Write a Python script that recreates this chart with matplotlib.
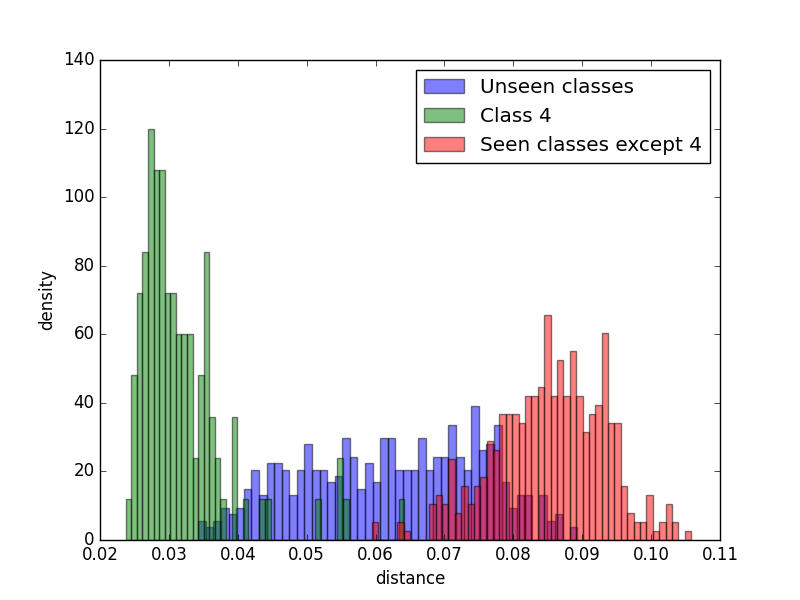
import numpy as np
import matplotlib
matplotlib.use("Agg")
import matplotlib.pyplot as plt

plt.style.use("classic")

# Anzahl pro Bin (50 Bins je Klasse)
unseen_counts = [3, 2, 3, 5, 4, 5, 8, 11, 7, 12,
                 12, 11, 7, 11, 15, 11, 11, 9, 10, 16,
                 13, 8, 12, 9, 16, 16, 11, 11, 11, 16,
                 11, 13, 13, 18, 13, 11, 21, 14, 15, 18,
                 9, 5, 7, 7, 0, 7, 3, 4, 0, 2]
unseen_range = (0.03427, 0.08929)

class4_counts = [1, 4, 6, 7, 10, 9, 9, 6, 6, 5,
                 5, 5, 2, 4, 7, 3, 2, 1, 0, 3,
                 0, 1, 0, 0, 1, 1, 0, 0, 0, 0,
                 0, 0, 0, 0, 1, 0, 0, 0, 2, 1,
                 0, 0, 0, 0, 0, 0, 0, 0, 0, 1]
class4_range = (0.02373, 0.06418)

seen_counts = [2, 0, 0, 0, 2, 1, 0, 0, 0, 4,
               5, 4, 9, 3, 6, 4, 6, 7, 11, 10,
               14, 14, 14, 13, 16, 16, 17, 25, 16, 20,
               16, 21, 16, 12, 14, 15, 23, 13, 13, 6,
               3, 2, 2, 5, 1, 2, 4, 2, 0, 1]
seen_range = (0.05944, 0.10581)


def zeichne_hist(ax, counts, bereich, farbe, label):
    kanten = np.linspace(bereich[0], bereich[1], len(counts) + 1)
    mitten = (kanten[:-1] + kanten[1:]) / 2
    ax.hist(mitten, bins=kanten, weights=counts, density=True,
            alpha=0.5, color=farbe, label=label)


fig = plt.figure(figsize=(8, 6), facecolor="white")
ax = fig.add_subplot(111)

zeichne_hist(ax, unseen_counts, unseen_range, "b", "Unseen classes")
zeichne_hist(ax, class4_counts, class4_range, "g", "Class 4")
zeichne_hist(ax, seen_counts, seen_range, "r", "Seen classes except 4")

ax.set_xlim(0.02, 0.11)
ax.set_ylim(0, 140)
ax.set_xlabel("distance")
ax.set_ylabel("density")
ax.legend(loc="upper right")

plt.savefig("out.png", dpi=100, facecolor="white")
plt.close()
